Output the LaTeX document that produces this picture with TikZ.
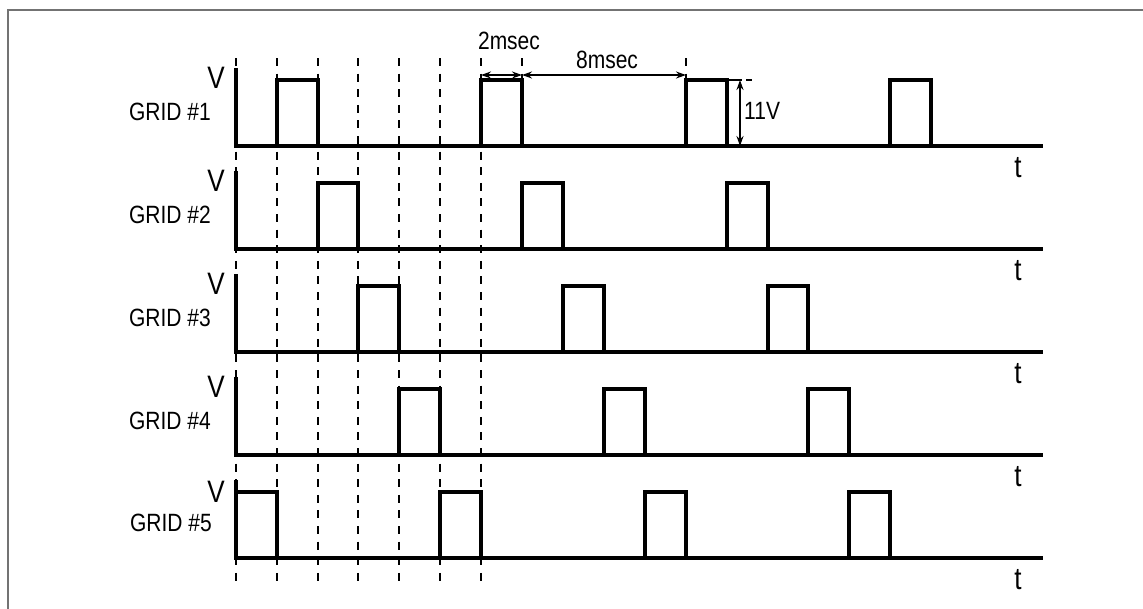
\documentclass[tikz,border=0pt]{standalone}
\usepackage{fontspec}
\newfontfamily\narrowsans[FakeStretch=0.84]{Liberation Sans}
\usepackage{tikz}
\usetikzlibrary{arrows.meta, positioning}

\begin{document}
\begin{tikzpicture}[
    x=1pt, y=-1pt,
    frame/.style={draw=black!55, line width=2pt},
    axis/.style={line width=3.2pt},
    wave/.style={line width=3.2pt, line join=miter},
    guide/.style={line width=2.8pt, dash pattern=on 8pt off 7.6pt},
    dim/.style={{Stealth[length=10pt,width=7pt]}-{Stealth[length=10pt,width=7pt]}, line width=2.3pt},
    gridlabel/.style={font=\narrowsans\fontsize{25}{25}\selectfont, inner sep=0pt},
    axlabel/.style={font=\narrowsans\fontsize{31}{31}\selectfont, inner sep=0pt},
    dimlabel/.style={font=\narrowsans\fontsize{25}{25}\selectfont, inner sep=0pt}
]

% Page and frame
\useasboundingbox (0,0) rectangle (1143,608);
\draw[frame] (8,660) -- (8,10) -- (1200,10);

% Time slot guides
\draw[guide] (236,58) -- (236,582);
\draw[guide] (277,58) -- (277,582);
\draw[guide] (318,58) -- (318,582);
\draw[guide] (358,58) -- (358,582);
\draw[guide] (399,58) -- (399,582);
\draw[guide] (440,58) -- (440,582);
\draw[guide] (481,58) -- (481,582);
\draw[guide] (522,58) -- (522,80);
\draw[guide] (686,58) -- (686,80);

% GRID #1
\coordinate (top1) at (236,68);
\coordinate (o1) at (236,146);
\coordinate (end1) at (1043,146);
\draw[axis] (top1) -- (o1) -- (end1);
\node[axlabel] (v1) at (216,78) {V};
\node[axlabel] (t1) at (1018,168) {t};
\node[gridlabel] (grid1) at (170,112) {GRID \#1};
\draw[wave] (277,146) rectangle (318,80);
\draw[wave] (481,146) rectangle (522,80);
\draw[wave] (686,146) rectangle (727,80);
\draw[wave] (890,146) rectangle (931,80);

% GRID #2
\coordinate (top2) at (236,171);
\coordinate (o2) at (236,249);
\coordinate (end2) at (1043,249);
\draw[axis] (top2) -- (o2) -- (end2);
\node[axlabel] (v2) at (216,181) {V};
\node[axlabel] (t2) at (1018,271) {t};
\node[gridlabel] (grid2) at (170,215) {GRID \#2};
\draw[wave] (318,249) rectangle (358,183);
\draw[wave] (522,249) rectangle (563,183);
\draw[wave] (727,249) rectangle (768,183);

% GRID #3
\coordinate (top3) at (236,274);
\coordinate (o3) at (236,352);
\coordinate (end3) at (1043,352);
\draw[axis] (top3) -- (o3) -- (end3);
\node[axlabel] (v3) at (216,284) {V};
\node[axlabel] (t3) at (1018,374) {t};
\node[gridlabel] (grid3) at (170,318) {GRID \#3};
\draw[wave] (358,352) rectangle (399,286);
\draw[wave] (563,352) rectangle (604,286);
\draw[wave] (768,352) rectangle (808,286);

% GRID #4
\coordinate (top4) at (236,377);
\coordinate (o4) at (236,455);
\coordinate (end4) at (1043,455);
\draw[axis] (top4) -- (o4) -- (end4);
\node[axlabel] (v4) at (216,387) {V};
\node[axlabel] (t4) at (1018,477) {t};
\node[gridlabel] (grid4) at (170,421) {GRID \#4};
\draw[wave] (399,455) rectangle (440,389);
\draw[wave] (604,455) rectangle (645,389);
\draw[wave] (808,455) rectangle (849,389);

% GRID #5
\coordinate (top5) at (236,480);
\coordinate (o5) at (236,558);
\coordinate (end5) at (1043,558);
\draw[axis] (top5) -- (o5) -- (end5);
\node[axlabel] (v5) at (216,492) {V};
\node[axlabel] (t5) at (1018,580) {t};
\node[gridlabel] (grid5) at (171,523) {GRID \#5};
\draw[wave] (236,558) rectangle (277,492);
\draw[wave] (440,558) rectangle (481,492);
\draw[wave] (645,558) rectangle (686,492);
\draw[wave] (849,558) rectangle (890,492);

% Timing annotations
\coordinate (on0) at (481,75);
\coordinate (on1) at (522,75);
\coordinate (off1) at (686,75);
\draw[dim] (on0) -- (on1);
\draw[dim] (on1) -- (off1);
\node[dimlabel] (onlabel) at (509,41) {2msec};
\node[dimlabel] (offlabel) at (607,60) {8msec};

% Amplitude
\coordinate (amp1) at (740,80);
\coordinate (amp0) at (740,146);
\draw[guide, dash pattern=on 13pt off 4pt] (729,80) -- (752,80);
\draw[dim] (amp1) -- (amp0);
\node[dimlabel, anchor=west] (amplabel) at (744,111) {11V};

\end{tikzpicture}
\end{document}
